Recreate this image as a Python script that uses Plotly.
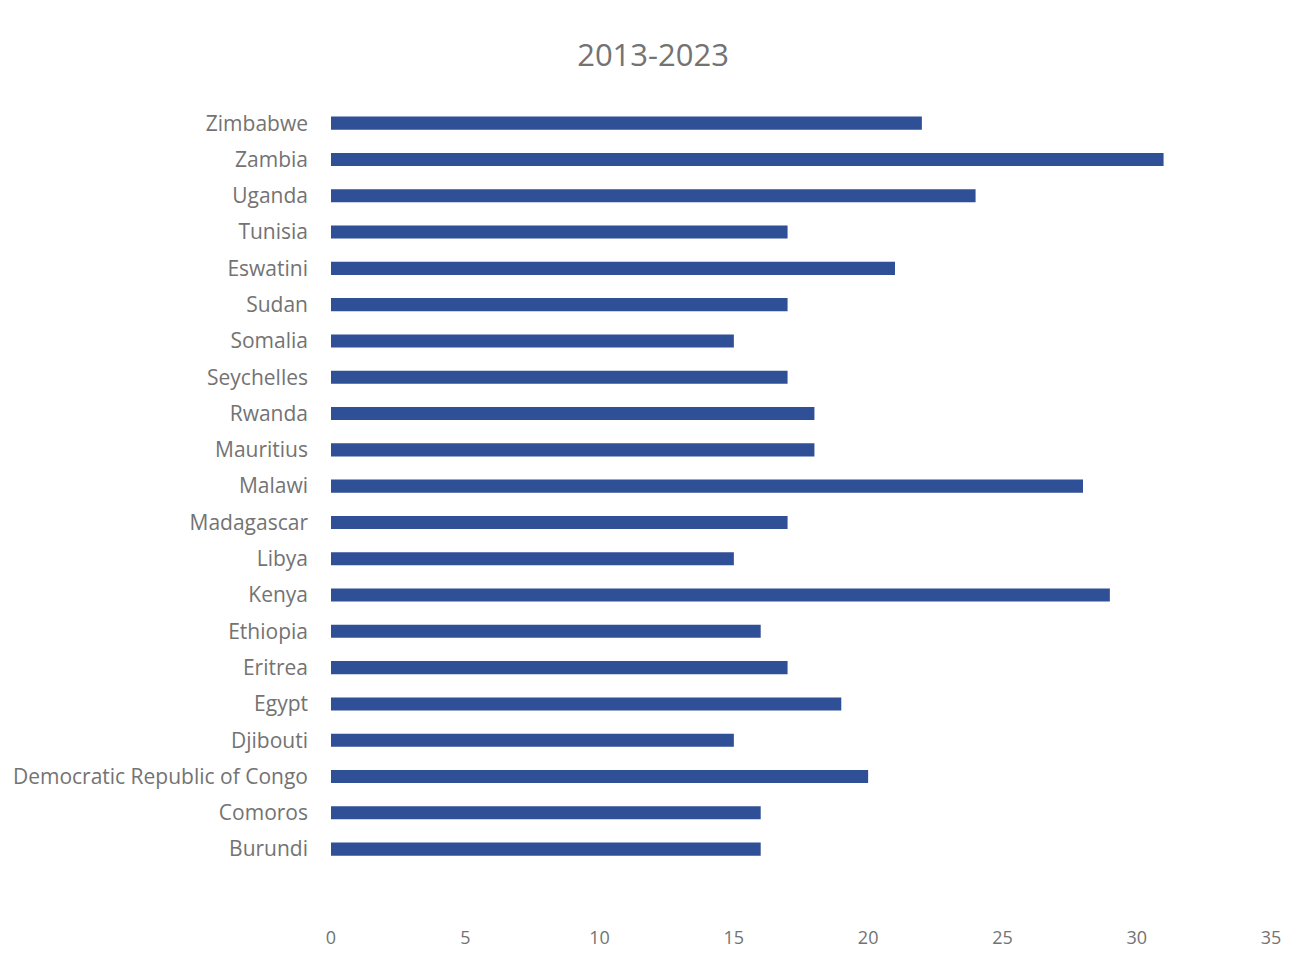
import plotly.graph_objects as go

countries = ["Burundi", "Comoros", "Democratic Republic of Congo", "Djibouti", "Egypt",
             "Eritrea", "Ethiopia", "Kenya", "Libya", "Madagascar", "Malawi", "Mauritius",
             "Rwanda", "Seychelles", "Somalia", "Sudan", "Eswatini", "Tunisia", "Uganda",
             "Zambia", "Zimbabwe"]
values = [16, 16, 20, 15, 19, 17, 16, 29, 15, 17, 28, 18, 18, 17, 15, 17, 21, 17, 24, 31, 22]
x_ticks = [0, 5, 10, 15, 20, 25, 30, 35]
title_text = "2013-2023"

font_family = "Open Sans, Lato, sans-serif"
text_color = "#737373"

fig = go.Figure(go.Bar(
    y=countries, x=values, orientation="h",
    marker=dict(color="#2F4F96", line=dict(width=0)),
))

fig.update_layout(
    width=1314, height=963,
    margin=dict(l=331, r=43, t=105, b=38),
    paper_bgcolor="white", plot_bgcolor="white",
    bargap=0.64,
    showlegend=False,
    title=dict(text=title_text, x=0.497, xanchor="center", y=0.943, yanchor="middle",
               font=dict(family=font_family, size=31, color=text_color)),
    xaxis=dict(range=[0, 35], tickvals=x_ticks, showgrid=False, zeroline=False,
               showline=False, ticks="", tickfont=dict(family=font_family, size=18, color=text_color)),
    yaxis=dict(type="category", categoryorder="array", categoryarray=countries,
               range=[-2.09, 20.5], showgrid=False, zeroline=False, showline=False,
               ticks="", ticklabelstandoff=22,
               tickfont=dict(family=font_family, size=21, color=text_color)),
)

fig.write_html("out.html")
